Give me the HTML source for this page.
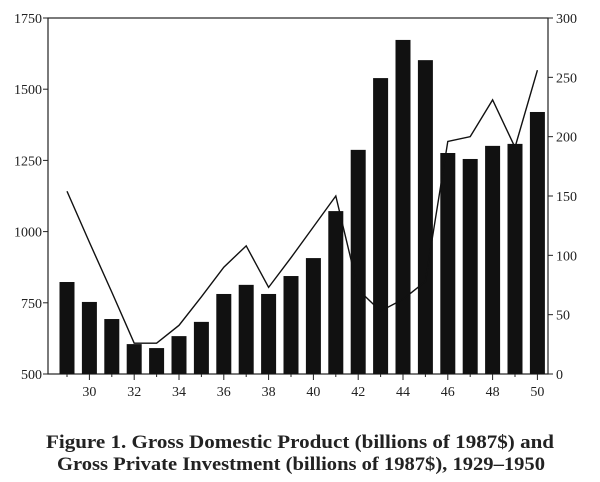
<!DOCTYPE html>
<html><head><meta charset="utf-8"><style>
body{margin:0;background:#fff;}
svg text{font-family:"Liberation Serif",serif;fill:#222;}
</style></head><body>
<svg id="chart" width="600" height="477">
<rect x="0" y="0" width="600" height="477" fill="#fff"/>
<g id="plot"></g>
<text x="300" y="448" text-anchor="middle" font-size="18.5" font-weight="bold" textLength="508" lengthAdjust="spacingAndGlyphs">Figure 1. Gross Domestic Product (billions of 1987$) and</text>
<text x="301" y="470" text-anchor="middle" font-size="18.5" font-weight="bold" textLength="488" lengthAdjust="spacingAndGlyphs">Gross Private Investment (billions of 1987$), 1929–1950</text>
</svg>
<script>
const years=[1929,1930,1931,1932,1933,1934,1935,1936,1937,1938,1939,1940,1941,1942,1943,1944,1945,1946,1947,1948,1949,1950];
const gdp=[823,753,693,605,591,633,683,781,813,781,844,907,1072,1287,1539,1673,1602,1276,1255,1301,1308,1420];
const investment=[154,111,69,26,26,41,65,90,108,73,98,124,150,71,53,63,78,196,200,231,191,256];
const leftTicks=[500,750,1000,1250,1500,1750];
const rightTicks=[0,50,100,150,200,250,300];
const xTickLabels=[30,32,34,36,38,40,42,44,46,48,50];
const NS="http://www.w3.org/2000/svg";
const L=48,R=548,T=18,B=374;
const yL=v=>B-(v-500)/1250*(B-T);
const yR=v=>B-v/300*(B-T);
const xS=yr=>67+(yr-1929)*22.4;
const g=document.getElementById('plot');
function mk(t,a){const e=document.createElementNS(NS,t);for(const k in a)e.setAttribute(k,a[k]);g.appendChild(e);return e;}
let e=mk('rect',{x:L,y:T,width:R-L,height:B-T,fill:'none',stroke:'#222','stroke-width':1.2});


years.forEach((yr,i)=>{
 const b=mk('rect',{x:xS(yr)-7.5,y:yL(gdp[i]),width:15,height:B-yL(gdp[i]),fill:'#111'});
 
 
});
const pts=years.map((yr,i)=>xS(yr)+','+yR(investment[i])).join(' ');
const pl=mk('polyline',{points:pts,fill:'none',stroke:'#111','stroke-width':1.4});


leftTicks.forEach(v=>{
 mk('line',{x1:L-5,x2:L,y1:yL(v),y2:yL(v),stroke:'#222'});
 const t=mk('text',{x:L-6,y:yL(v)+5,'text-anchor':'end','font-size':14});t.textContent=v;
 
 
});
rightTicks.forEach(v=>{
 mk('line',{x1:R,x2:R+5,y1:yR(v),y2:yR(v),stroke:'#222'});
 const t=mk('text',{x:R+8,y:yR(v)+5,'text-anchor':'start','font-size':14});t.textContent=v;
 
 
});
years.forEach(yr=>{const len=(yr%2===0)?6:3;mk('line',{x1:xS(yr),x2:xS(yr),y1:B,y2:B+len,stroke:'#222'});});
xTickLabels.forEach(v=>{
 const t=mk('text',{x:xS(1900+v),y:B+22,'text-anchor':'middle','font-size':14});t.textContent=v;
 
 
});
</script>
</body></html>
